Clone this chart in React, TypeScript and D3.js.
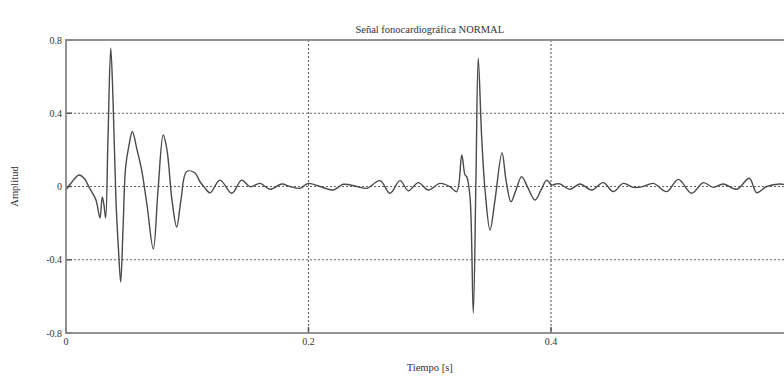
import React from "react";
import * as d3 from "d3";

const timeS: number[] = [
  0.0, 0.0049, 0.0107, 0.0148, 0.019, 0.0247, 0.028, 0.0299, 0.0313, 0.0327,
  0.0346, 0.0369, 0.0388, 0.0412, 0.0433, 0.0451, 0.047, 0.0492, 0.052, 0.0547,
  0.0586, 0.0624, 0.0668, 0.072, 0.0759, 0.0802, 0.0833, 0.0874, 0.0913, 0.0948,
  0.0995, 0.1064, 0.1105, 0.1146, 0.1188, 0.127, 0.1367, 0.1449, 0.1518, 0.16,
  0.1682, 0.1779, 0.1847, 0.193, 0.1998, 0.2095, 0.2204, 0.2287, 0.2398, 0.248,
  0.259, 0.2672, 0.2755, 0.2823, 0.2906, 0.2988, 0.3085, 0.3167, 0.3222, 0.3264,
  0.3291, 0.3305, 0.3332, 0.3359, 0.3381, 0.34, 0.3428, 0.3456, 0.3497, 0.3538,
  0.3596, 0.3629, 0.367, 0.3711, 0.3758, 0.381, 0.3868, 0.3918, 0.3965, 0.4006,
  0.4041, 0.4074, 0.4157, 0.4239, 0.4336, 0.4431, 0.4514, 0.4596, 0.4679, 0.4761,
  0.4844, 0.4954, 0.505, 0.516, 0.5256, 0.5339, 0.5421, 0.5532, 0.5635, 0.5697,
  0.5779, 0.5889, 0.597,
];

const amplitude: number[] = [
  -0.019, 0.025, 0.063, 0.046, -0.003, -0.074, -0.172, -0.057, -0.1, -0.172,
  0.254, 0.756, 0.47, -0.074, -0.347, -0.522, -0.238, 0.107, 0.227, 0.3,
  0.2, 0.09, -0.101, -0.341, -0.019, 0.281, 0.199, -0.074, -0.221, -0.074,
  0.082, 0.074, 0.026, -0.008, -0.035, 0.035, -0.037, 0.035, -0.001, 0.017,
  -0.015, 0.014, 0.0, -0.01, 0.017, 0.0, -0.019, 0.012, 0.0, -0.01,
  0.032, -0.037, 0.032, -0.023, 0.021, -0.019, 0.017, -0.001, -0.028, 0.172,
  0.063, 0.054, -0.056, -0.691, 0.035, 0.7, 0.272, -0.019, -0.238, -0.074,
  0.185, 0.035, -0.083, -0.019, 0.054, -0.008, -0.074, -0.019, 0.035, 0.008,
  0.014, 0.014, -0.015, 0.014, -0.019, 0.021, -0.028, 0.017, -0.005, 0.0,
  0.017, -0.028, 0.039, -0.037, 0.021, -0.005, 0.014, -0.015, 0.045, -0.034,
  0.0, 0.014, 0.003,
];

const yTicks: number[] = [0.8, 0.4, 0, -0.4, -0.8];
const yTickLabels: string[] = ["0.8", "0.4", "0", "-0.4", "-0.8"];
const xTicks: number[] = [0, 0.2, 0.4, 0.6];
const xTickLabels: string[] = ["0", "0.2", "0.4", "0.6"];
const gridY: number[] = [0.4, 0, -0.4];
const gridX: number[] = [0.2, 0.4];

const titleText = "Señal fonocardiográfica NORMAL";
const xLabelText = "Tiempo [s]";
const yLabelText = "Amplitud";

export default function App() {
  const W = 784;
  const H = 376;
  const left = 66;
  const right = 793.5;
  const top = 40;
  const bottom = 333;

  const x = d3.scaleLinear().domain([0, 0.6]).range([left, right]);
  const y = d3.scaleLinear().domain([-0.8, 0.8]).range([bottom, top]);

  const pts: [number, number][] = timeS.map((t, i) => [t, amplitude[i]]);
  const line = d3
    .line<[number, number]>()
    .x((d) => x(d[0]))
    .y((d) => y(d[1]))
    .curve(d3.curveCatmullRom.alpha(0.5));

  const font = "'Liberation Serif', 'DejaVu Serif', serif";
  const textColor = "#333";

  return (
    <svg
      width={W}
      height={H}
      style={{ position: "absolute", left: 0, top: 0, background: "#fff" }}
    >
      <rect x={0} y={0} width={W} height={H} fill="#fff" />
      {/* grid */}
      {gridY.map((v) => (
        <line
          key={"gy" + v}
          x1={left}
          x2={right}
          y1={y(v)}
          y2={y(v)}
          stroke="#666"
          strokeWidth={1.2}
          strokeDasharray="2,2"
        />
      ))}
      {gridX.map((v) => (
        <line
          key={"gx" + v}
          x1={x(v)}
          x2={x(v)}
          y1={top}
          y2={bottom}
          stroke="#666"
          strokeWidth={1.2}
          strokeDasharray="2,2"
        />
      ))}
      {/* ticks */}
      {yTicks.map((v) => (
        <line key={"ty" + v} x1={left} x2={left + 6} y1={y(v)} y2={y(v)} stroke="#555" strokeWidth={1.5} />
      ))}
      {xTicks.map((v) => (
        <line key={"tx" + v} x1={x(v)} x2={x(v)} y1={bottom} y2={bottom - 6} stroke="#555" strokeWidth={1.5} />
      ))}
      {/* signal */}
      <path d={line(pts) || ""} fill="none" stroke="#4a4a4a" strokeWidth={1.4} strokeLinejoin="round" />
      {/* axes box */}
      <rect
        x={left}
        y={top}
        width={right - left}
        height={bottom - top}
        fill="none"
        stroke="#888"
        strokeWidth={1.8}
      />
      {/* tick labels */}
      {yTicks.map((v, i) => (
        <text
          key={"ly" + v}
          x={left - 4}
          y={y(v)}
          dy="0.35em"
          textAnchor="end"
          fontFamily={font}
          fontSize={10}
          fill={textColor}
        >
          {yTickLabels[i]}
        </text>
      ))}
      {xTicks.map((v, i) => (
        <text
          key={"lx" + v}
          x={x(v)}
          y={bottom + 12}
          textAnchor="middle"
          fontFamily={font}
          fontSize={10}
          fill={textColor}
        >
          {xTickLabels[i]}
        </text>
      ))}
      {/* title and labels */}
      <text
        x={(left + right) / 2}
        y={top - 7}
        textAnchor="middle"
        fontFamily={font}
        fontSize={10.5}
        fill={textColor}
      >
        {titleText}
      </text>
      <text
        x={(left + right) / 2}
        y={H - 5}
        textAnchor="middle"
        fontFamily={font}
        fontSize={10.5}
        fill={textColor}
      >
        {xLabelText}
      </text>
      <text
        transform={`translate(18, ${(top + bottom) / 2}) rotate(-90)`}
        textAnchor="middle"
        fontFamily={font}
        fontSize={10.5}
        fill={textColor}
      >
        {yLabelText}
      </text>
    </svg>
  );
}
